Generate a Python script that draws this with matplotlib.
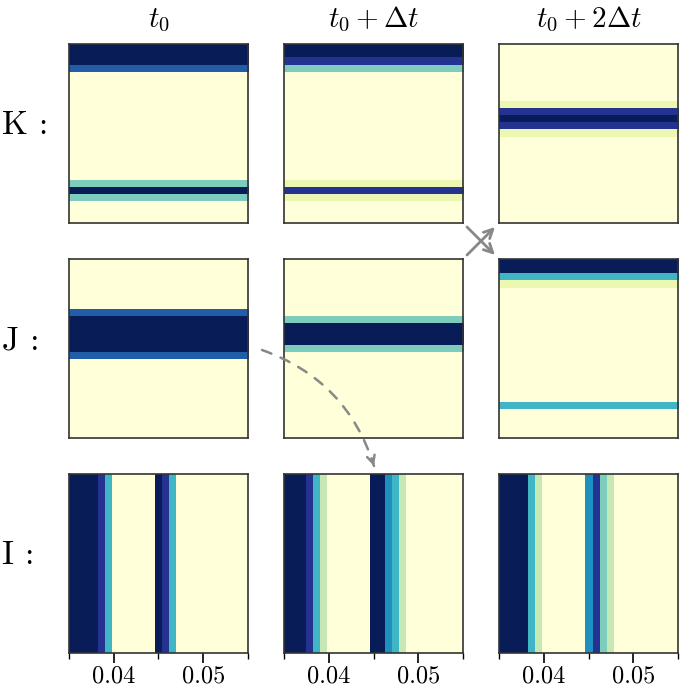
import numpy as np
import matplotlib
matplotlib.use('Agg')
import matplotlib.pyplot as plt
from matplotlib.patches import FancyArrowPatch

plt.rcParams['font.family'] = 'serif'
plt.rcParams['font.serif'] = ['cmr10', 'DejaVu Serif']
plt.rcParams['mathtext.fontset'] = 'cm'
plt.rcParams['axes.formatter.use_mathtext'] = True

# column / row labels
col_titles = [r'$t_0$', r'$t_0 + \Delta t$', r'$t_0 + 2\Delta t$']
row_labels = ['K :', 'J :', 'I :']

# stripe values (25 cells each), 0 = background, 1 = darkest
# K rows, top to bottom
K_t0 = [1, 1, 1, 0.75] + [0]*15 + [0.375, 1, 0.375, 0, 0, 0]
K_t1 = [1, 1, 0.875, 0.375] + [0]*15 + [0.125, 0.875, 0.125, 0, 0, 0]
K_t2 = [0]*8 + [0.125, 0.875, 1, 0.875, 0.125] + [0]*12
# J rows, top to bottom
J_t0 = [0]*7 + [0.75, 1, 1, 1, 1, 1, 0.75] + [0]*11
J_t1 = [0]*8 + [0.375, 1, 1, 1, 0.375] + [0]*12
J_t2 = [1, 1, 0.5, 0.125] + [0]*16 + [0.5] + [0]*4
# I columns, left to right over x
I_t0 = [1, 1, 1, 1, 0.875, 0.5] + [0]*6 + [1, 0.875, 0.5] + [0]*10
I_t1 = [1, 1, 1, 0.875, 0.5, 0.25] + [0]*6 + [1, 1, 0.625, 0.5, 0.25] + [0]*8
I_t2 = [1, 1, 1, 1, 0.5, 0.25] + [0]*6 + [0.625, 0.875, 0.375, 0.25] + [0]*9
x_min, x_max = 0.035, 0.055
major_ticks = [0.04, 0.05]
minor_ticks = [0.035, 0.045, 0.055]

grid = [[K_t0, K_t1, K_t2], [J_t0, J_t1, J_t2], [I_t0, I_t1, I_t2]]

W, H = 685, 690
fig = plt.figure(figsize=(W/100, H/100), dpi=100)

lefts = [69, 284, 499]
tops = [44, 259, 474]
size = 179

def fx(px):
    return px / W

def fy(py):
    return 1 - py / H

for r in range(3):
    for c in range(3):
        ax = fig.add_axes([fx(lefts[c]), fy(tops[r] + size), size/W, size/H])
        vals = np.array(grid[r][c], dtype=float)
        if r < 2:
            ax.imshow(vals[:, None], cmap='YlGnBu', vmin=0, vmax=1,
                      aspect='auto', interpolation='nearest',
                      extent=[0, 1, 0, 1], origin='upper')
            ax.set_xticks([])
        else:
            ax.imshow(vals[None, :], cmap='YlGnBu', vmin=0, vmax=1,
                      aspect='auto', interpolation='nearest',
                      extent=[x_min, x_max, 0, 1])
            ax.set_xticks(major_ticks)
            ax.set_xticklabels(['%.2f' % v for v in major_ticks])
            ax.set_xticks(minor_ticks, minor=True)
            ax.tick_params(axis='x', which='major', length=7, width=1.2,
                           labelsize=17.5, pad=2)
            ax.tick_params(axis='x', which='minor', length=4, width=1)
        ax.set_yticks([])
        for s in ax.spines.values():
            s.set_color('#333333')
            s.set_linewidth(1.2)
        if r == 0:
            ax.set_title(col_titles[c], fontsize=21, pad=12)
    fig.text(fx(2), fy(tops[r] + size/2 - 8), row_labels[r], fontsize=24,
             ha='left', va='center')

# crossed arrows between K(t0+dt) and J(t0+2dt)
grey = '#888888'
for (p0, p1) in [((467, 255), (495, 227)), ((467, 227), (495, 255))]:
    fig.add_artist(FancyArrowPatch((fx(p0[0]), fy(p0[1])), (fx(p1[0]), fy(p1[1])),
                                   transform=fig.transFigure, arrowstyle='->',
                                   mutation_scale=16, color=grey, lw=2,
                                   shrinkA=0, shrinkB=0))

# dashed curved arrow from J(t0) to I(t0+dt)
start, end, rad = (262, 350), (374, 466), -0.25
fig.add_artist(FancyArrowPatch((fx(start[0]), fy(start[1])), (fx(end[0]), fy(end[1])),
                               transform=fig.transFigure, arrowstyle='-',
                               connectionstyle='arc3,rad=%g' % rad,
                               color=grey, lw=1.8, linestyle=(0, (4, 4)),
                               shrinkA=0, shrinkB=0))
# solid head along the end tangent of the arc
dx, dy = end[0] - start[0], end[1] - start[1]
cx = (start[0] + end[0]) / 2 - rad * dy
cy = (start[1] + end[1]) / 2 + rad * dx
tx, ty = end[0] - cx, end[1] - cy
n = np.hypot(tx, ty)
hs = (end[0] - 8 * tx / n, end[1] - 8 * ty / n)
fig.add_artist(FancyArrowPatch((fx(hs[0]), fy(hs[1])), (fx(end[0]), fy(end[1])),
                               transform=fig.transFigure, arrowstyle='->',
                               mutation_scale=14, color=grey, lw=1.8,
                               shrinkA=0, shrinkB=0))

fig.savefig('out.png', dpi=100)
